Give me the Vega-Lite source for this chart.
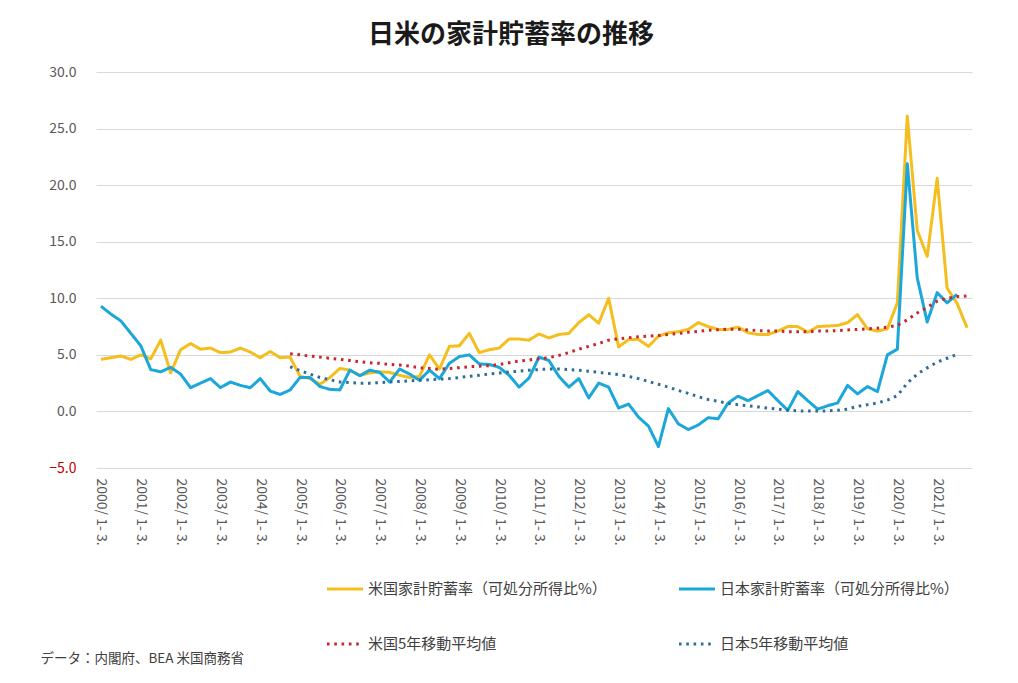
{
  "$schema": "https://vega.github.io/schema/vega-lite/v6.json",
  "width": 876,
  "height": 396,
  "autosize": "none",
  "padding": {"left": 96, "top": 72, "right": 46, "bottom": 215},
  "background": "white",
  "config": {"view": {"stroke": null}, "font": "Noto Sans CJK JP"},
  "title": {"text": "日米の家計貯蓄率の推移", "fontSize": 26, "fontWeight": "bold", "color": "#1a1a1a", "anchor": "middle", "dx": -23, "offset": 17, "font": "Noto Sans CJK JP"},
  "data": {"values": [
    {"t":"2000/ 1- 3.","US":4.6,"JP":9.3,"USMA":null,"JPMA":null},
    {"t":"2000/ 4- 6.","US":4.75,"JP":8.6,"USMA":null,"JPMA":null},
    {"t":"2000/ 7- 9.","US":4.9,"JP":8.0,"USMA":null,"JPMA":null},
    {"t":"2000/ 10- 12.","US":4.6,"JP":6.9,"USMA":null,"JPMA":null},
    {"t":"2001/ 1- 3.","US":5.0,"JP":5.8,"USMA":null,"JPMA":null},
    {"t":"2001/ 4- 6.","US":4.65,"JP":3.7,"USMA":null,"JPMA":null},
    {"t":"2001/ 7- 9.","US":6.3,"JP":3.5,"USMA":null,"JPMA":null},
    {"t":"2001/ 10- 12.","US":3.4,"JP":3.9,"USMA":null,"JPMA":null},
    {"t":"2002/ 1- 3.","US":5.45,"JP":3.3,"USMA":null,"JPMA":null},
    {"t":"2002/ 4- 6.","US":6.0,"JP":2.1,"USMA":null,"JPMA":null},
    {"t":"2002/ 7- 9.","US":5.5,"JP":2.5,"USMA":null,"JPMA":null},
    {"t":"2002/ 10- 12.","US":5.6,"JP":2.9,"USMA":null,"JPMA":null},
    {"t":"2003/ 1- 3.","US":5.2,"JP":2.1,"USMA":null,"JPMA":null},
    {"t":"2003/ 4- 6.","US":5.25,"JP":2.6,"USMA":null,"JPMA":null},
    {"t":"2003/ 7- 9.","US":5.6,"JP":2.3,"USMA":null,"JPMA":null},
    {"t":"2003/ 10- 12.","US":5.25,"JP":2.1,"USMA":null,"JPMA":null},
    {"t":"2004/ 1- 3.","US":4.75,"JP":2.9,"USMA":null,"JPMA":null},
    {"t":"2004/ 4- 6.","US":5.3,"JP":1.8,"USMA":null,"JPMA":null},
    {"t":"2004/ 7- 9.","US":4.75,"JP":1.5,"USMA":null,"JPMA":null},
    {"t":"2004/ 10- 12.","US":4.8,"JP":1.9,"USMA":5.1,"JPMA":3.95},
    {"t":"2005/ 1- 3.","US":3.1,"JP":3.0,"USMA":5.0,"JPMA":3.6},
    {"t":"2005/ 4- 6.","US":2.9,"JP":3.0,"USMA":4.9,"JPMA":3.3},
    {"t":"2005/ 7- 9.","US":2.4,"JP":2.2,"USMA":4.8,"JPMA":3.0},
    {"t":"2005/ 10- 12.","US":3.0,"JP":1.95,"USMA":4.7,"JPMA":2.8},
    {"t":"2006/ 1- 3.","US":3.8,"JP":1.9,"USMA":4.6,"JPMA":2.6},
    {"t":"2006/ 4- 6.","US":3.65,"JP":3.65,"USMA":4.5,"JPMA":2.55},
    {"t":"2006/ 7- 9.","US":3.2,"JP":3.15,"USMA":4.4,"JPMA":2.5},
    {"t":"2006/ 10- 12.","US":3.4,"JP":3.65,"USMA":4.3,"JPMA":2.5},
    {"t":"2007/ 1- 3.","US":3.5,"JP":3.45,"USMA":4.25,"JPMA":2.55},
    {"t":"2007/ 4- 6.","US":3.45,"JP":2.6,"USMA":4.15,"JPMA":2.6},
    {"t":"2007/ 7- 9.","US":3.2,"JP":3.75,"USMA":4.1,"JPMA":2.65},
    {"t":"2007/ 10- 12.","US":3.0,"JP":3.3,"USMA":4.0,"JPMA":2.7},
    {"t":"2008/ 1- 3.","US":3.1,"JP":2.75,"USMA":3.85,"JPMA":2.75},
    {"t":"2008/ 4- 6.","US":5.0,"JP":3.65,"USMA":3.8,"JPMA":2.8},
    {"t":"2008/ 7- 9.","US":3.75,"JP":2.9,"USMA":3.72,"JPMA":2.85},
    {"t":"2008/ 10- 12.","US":5.75,"JP":4.25,"USMA":3.8,"JPMA":2.9},
    {"t":"2009/ 1- 3.","US":5.8,"JP":4.85,"USMA":3.87,"JPMA":3.0},
    {"t":"2009/ 4- 6.","US":6.9,"JP":5.0,"USMA":3.95,"JPMA":3.1},
    {"t":"2009/ 7- 9.","US":5.2,"JP":4.2,"USMA":4.0,"JPMA":3.2},
    {"t":"2009/ 10- 12.","US":5.45,"JP":4.15,"USMA":4.05,"JPMA":3.3},
    {"t":"2010/ 1- 3.","US":5.6,"JP":3.9,"USMA":4.15,"JPMA":3.4},
    {"t":"2010/ 4- 6.","US":6.4,"JP":3.2,"USMA":4.3,"JPMA":3.5},
    {"t":"2010/ 7- 9.","US":6.4,"JP":2.15,"USMA":4.45,"JPMA":3.55},
    {"t":"2010/ 10- 12.","US":6.3,"JP":2.95,"USMA":4.55,"JPMA":3.65},
    {"t":"2011/ 1- 3.","US":6.85,"JP":4.8,"USMA":4.65,"JPMA":3.7},
    {"t":"2011/ 4- 6.","US":6.5,"JP":4.5,"USMA":4.75,"JPMA":3.75},
    {"t":"2011/ 7- 9.","US":6.8,"JP":3.1,"USMA":4.95,"JPMA":3.75},
    {"t":"2011/ 10- 12.","US":6.9,"JP":2.15,"USMA":5.2,"JPMA":3.7},
    {"t":"2012/ 1- 3.","US":7.85,"JP":2.9,"USMA":5.5,"JPMA":3.65},
    {"t":"2012/ 4- 6.","US":8.55,"JP":1.2,"USMA":5.75,"JPMA":3.55},
    {"t":"2012/ 7- 9.","US":7.8,"JP":2.5,"USMA":6.0,"JPMA":3.45},
    {"t":"2012/ 10- 12.","US":10.0,"JP":2.15,"USMA":6.3,"JPMA":3.35},
    {"t":"2013/ 1- 3.","US":5.7,"JP":0.3,"USMA":6.42,"JPMA":3.25},
    {"t":"2013/ 4- 6.","US":6.35,"JP":0.65,"USMA":6.52,"JPMA":3.1},
    {"t":"2013/ 7- 9.","US":6.35,"JP":-0.5,"USMA":6.6,"JPMA":2.9},
    {"t":"2013/ 10- 12.","US":5.75,"JP":-1.3,"USMA":6.66,"JPMA":2.65},
    {"t":"2014/ 1- 3.","US":6.65,"JP":-3.1,"USMA":6.72,"JPMA":2.4},
    {"t":"2014/ 4- 6.","US":6.95,"JP":0.25,"USMA":6.8,"JPMA":2.15},
    {"t":"2014/ 7- 9.","US":7.05,"JP":-1.1,"USMA":6.9,"JPMA":1.85},
    {"t":"2014/ 10- 12.","US":7.25,"JP":-1.6,"USMA":7.0,"JPMA":1.6},
    {"t":"2015/ 1- 3.","US":7.85,"JP":-1.2,"USMA":7.07,"JPMA":1.3},
    {"t":"2015/ 4- 6.","US":7.5,"JP":-0.55,"USMA":7.17,"JPMA":1.05},
    {"t":"2015/ 7- 9.","US":7.25,"JP":-0.65,"USMA":7.22,"JPMA":0.9},
    {"t":"2015/ 10- 12.","US":7.25,"JP":0.75,"USMA":7.27,"JPMA":0.7},
    {"t":"2016/ 1- 3.","US":7.45,"JP":1.35,"USMA":7.27,"JPMA":0.6},
    {"t":"2016/ 4- 6.","US":6.95,"JP":0.95,"USMA":7.2,"JPMA":0.5},
    {"t":"2016/ 7- 9.","US":6.8,"JP":1.4,"USMA":7.15,"JPMA":0.4},
    {"t":"2016/ 10- 12.","US":6.8,"JP":1.85,"USMA":7.1,"JPMA":0.3},
    {"t":"2017/ 1- 3.","US":7.1,"JP":0.95,"USMA":7.1,"JPMA":0.2},
    {"t":"2017/ 4- 6.","US":7.5,"JP":0.1,"USMA":7.05,"JPMA":0.1},
    {"t":"2017/ 7- 9.","US":7.5,"JP":1.75,"USMA":7.05,"JPMA":0.05},
    {"t":"2017/ 10- 12.","US":7.0,"JP":0.95,"USMA":7.05,"JPMA":0.03},
    {"t":"2018/ 1- 3.","US":7.5,"JP":0.2,"USMA":7.1,"JPMA":0.03},
    {"t":"2018/ 4- 6.","US":7.55,"JP":0.5,"USMA":7.1,"JPMA":0.05},
    {"t":"2018/ 7- 9.","US":7.6,"JP":0.75,"USMA":7.15,"JPMA":0.1},
    {"t":"2018/ 10- 12.","US":7.85,"JP":2.3,"USMA":7.2,"JPMA":0.2},
    {"t":"2019/ 1- 3.","US":8.55,"JP":1.55,"USMA":7.25,"JPMA":0.45},
    {"t":"2019/ 4- 6.","US":7.3,"JP":2.2,"USMA":7.3,"JPMA":0.6},
    {"t":"2019/ 7- 9.","US":7.1,"JP":1.75,"USMA":7.35,"JPMA":0.75},
    {"t":"2019/ 10- 12.","US":7.3,"JP":5.0,"USMA":7.45,"JPMA":1.0},
    {"t":"2020/ 1- 3.","US":9.6,"JP":5.5,"USMA":7.6,"JPMA":1.4},
    {"t":"2020/ 4- 6.","US":26.1,"JP":21.9,"USMA":8.1,"JPMA":2.5},
    {"t":"2020/ 7- 9.","US":16.0,"JP":11.8,"USMA":8.7,"JPMA":3.3},
    {"t":"2020/ 10- 12.","US":13.7,"JP":7.9,"USMA":9.2,"JPMA":3.85},
    {"t":"2021/ 1- 3.","US":20.6,"JP":10.5,"USMA":9.75,"JPMA":4.35},
    {"t":"2021/ 4- 6.","US":10.9,"JP":9.6,"USMA":10.0,"JPMA":4.7},
    {"t":"2021/ 7- 9.","US":9.55,"JP":10.35,"USMA":10.15,"JPMA":5.05},
    {"t":"2021/ 10- 12.","US":7.4,"JP":null,"USMA":10.2,"JPMA":null}
  ]},
  "transform": [{"fold": ["US", "JP", "USMA", "JPMA"], "as": ["s", "v"]}],
  "mark": {"type": "line", "strokeWidth": 3, "strokeCap": "butt", "strokeJoin": "round"},
  "encoding": {
    "x": {
      "field": "t", "type": "ordinal", "sort": null,
      "scale": {"type": "point", "padding": 0.5},
      "axis": {
        "values": ["2000/ 1- 3.","2001/ 1- 3.","2002/ 1- 3.","2003/ 1- 3.","2004/ 1- 3.","2005/ 1- 3.","2006/ 1- 3.","2007/ 1- 3.","2008/ 1- 3.","2009/ 1- 3.","2010/ 1- 3.","2011/ 1- 3.","2012/ 1- 3.","2013/ 1- 3.","2014/ 1- 3.","2015/ 1- 3.","2016/ 1- 3.","2017/ 1- 3.","2018/ 1- 3.","2019/ 1- 3.","2020/ 1- 3.","2021/ 1- 3."],
        "labelAngle": 90, "labelAlign": "left", "labelBaseline": "middle",
        "labelFontSize": 14, "labelColor": "#595959", "labelPadding": 10,
        "domain": false, "ticks": false, "grid": false,
        "title": "データ：内閣府、BEA 米国商務省",
        "titleAnchor": "start", "titleAlign": "left", "titleBaseline": "alphabetic",
        "titleX": -56, "titleY": 194, "titleFontSize": 13.5, "titleFontWeight": "normal", "titleColor": "#404040"
      }
    },
    "y": {
      "field": "v", "type": "quantitative",
      "scale": {"domain": [-5, 30], "nice": false, "zero": false},
      "axis": {
        "values": [-5, 0, 5, 10, 15, 20, 25, 30], "format": ".1f",
        "labelFontSize": 14, "labelPadding": 20,
        "labelColor": {"expr": "datum.value < 0 ? '#c00000' : '#595959'"},
        "domain": false, "ticks": false, "gridColor": "#d9d9d9", "gridWidth": 1, "title": null
      }
    },
    "color": {
      "field": "s", "type": "nominal",
      "scale": {"domain": ["US", "JP", "USMA", "JPMA"], "range": ["#F4BE1E", "#1BA7DA", "#C8262E", "#2E6E94"]},
      "legend": {
        "title": null, "orient": "none", "direction": "horizontal", "legendX": 229, "legendY": 497, "columns": 2,
        "columnPadding": 65, "rowPadding": 27,
        "symbolType": "stroke", "symbolSize": 1300, "symbolStrokeWidth": 3,
        "labelFontSize": 15, "labelColor": "#404040", "labelOffset": 3, "labelLimit": 400,
        "labelExpr": "datum.label == 'US' ? '米国家計貯蓄率（可処分所得比%）' : datum.label == 'JP' ? '日本家計貯蓄率（可処分所得比%）' : datum.label == 'USMA' ? '米国5年移動平均値' : '日本5年移動平均値'"
      }
    },
    "strokeDash": {
      "field": "s", "type": "nominal",
      "scale": {"domain": ["US", "JP", "USMA", "JPMA"], "range": [[1, 0], [1, 0], [2.6, 4.7], [2.6, 4.7]]},
      "legend": {"title": null}
    }
  }
}
